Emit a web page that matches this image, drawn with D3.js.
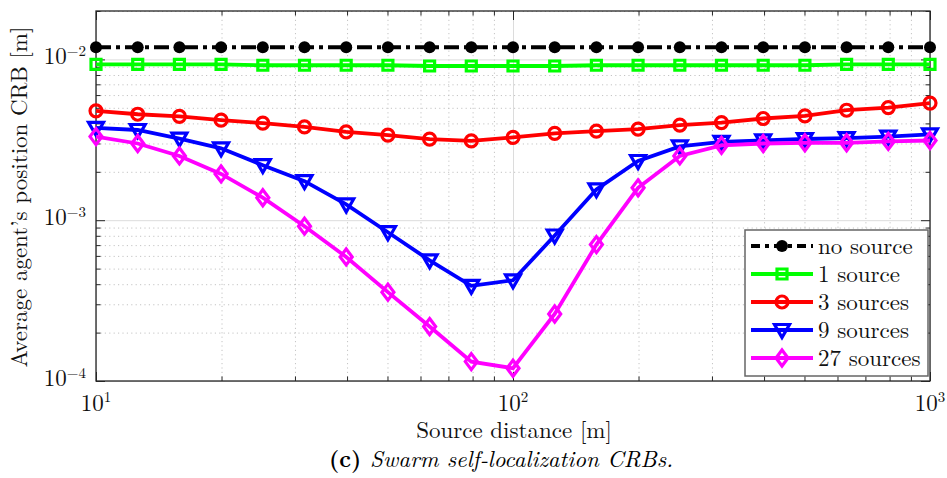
<!DOCTYPE html>
<html>
<head>
<meta charset="utf-8">
<script src="https://cdn.jsdelivr.net/npm/d3@7"></script>
<style>
  body { margin: 0; background: #fff; }
</style>
</head>
<body>
<svg id="chart" width="947" height="478"></svg>
<script>
// ---- data ----
const distances = [10, 12.59, 15.85, 19.95, 25.12, 31.62, 39.81, 50.12, 63.1, 79.43,
  100, 125.9, 158.5, 199.5, 251.2, 316.2, 398.1, 501.2, 631, 794.3, 1000];

const noSource = [0.0119, 0.0119, 0.0119, 0.0119, 0.0119, 0.0119, 0.0119, 0.0119, 0.0119, 0.0119,
  0.0119, 0.0119, 0.0119, 0.0119, 0.0119, 0.0119, 0.0119, 0.0119, 0.0119, 0.0119, 0.0119];
const oneSource = [0.0093, 0.0093, 0.0093, 0.0093, 0.0092, 0.0092, 0.0092, 0.0092, 0.0091, 0.0091,
  0.0091, 0.0091, 0.0092, 0.0092, 0.0092, 0.0092, 0.0092, 0.0092, 0.0093, 0.0093, 0.0093];
const threeSources = [0.00479, 0.00456, 0.00442, 0.00419, 0.00401, 0.0038, 0.00354, 0.00338, 0.00319, 0.00311,
  0.00327, 0.00347, 0.00358, 0.00368, 0.0039, 0.00405, 0.00429, 0.00445, 0.00483, 0.00502, 0.00535];
const nineSources = [0.00375, 0.00364, 0.00322, 0.0028, 0.0022, 0.00175, 0.001253, 0.000842, 0.000563, 0.000391,
  0.000423, 0.000803, 0.001554, 0.002335, 0.00288, 0.00307, 0.00314, 0.0032, 0.00324, 0.00331, 0.00342];
const twentySevenSources = [0.00331, 0.003, 0.00251, 0.00194, 0.00138, 0.000918, 0.000591, 0.000357, 0.000218, 0.000132,
  0.00012, 0.000261, 0.000705, 0.00159, 0.00251, 0.00292, 0.003, 0.00303, 0.00303, 0.00309, 0.00313];

const seriesNames = ["no source", "1 source", "3 sources", "9 sources", "27 sources"];

const xMajor = [10, 100, 1000];
const xMinor = [20, 30, 40, 50, 60, 70, 80, 90, 200, 300, 400, 500, 600, 700, 800, 900];
const yMajor = [1e-4, 1e-3, 1e-2];
const yMinor = [2e-4, 3e-4, 4e-4, 5e-4, 6e-4, 7e-4, 8e-4, 9e-4,
  2e-3, 3e-3, 4e-3, 5e-3, 6e-3, 7e-3, 8e-3, 9e-3, 2e-2];
const xExp = { 10: "1", 100: "2", 1000: "3" };
const yExp = { 1e-4: "\u22124", 1e-3: "\u22123", 1e-2: "\u22122" };

// ---- chart ----
const FONT = '"Latin Modern Roman"';
const FS = "23px";
const svg = d3.select("#chart");
const margin = { top: 11, right: 17, bottom: 97, left: 96 };
const width = +svg.attr("width");
const height = +svg.attr("height");
const innerWidth = width - margin.left - margin.right;
const innerHeight = height - margin.top - margin.bottom;
const axisColor = "#262626";

const g = svg.append("g").attr("transform", `translate(${margin.left},${margin.top})`);

const x = d3.scaleLog().domain([10, 1000]).range([0, innerWidth]);
const y = d3.scaleLog().domain([1e-4, 2e-2]).range([innerHeight, 0]);

// grid: minor dotted, major solid light
g.append("g")
  .call(d3.axisBottom(x).tickValues(xMinor).tickSize(innerHeight).tickFormat(""))
  .call((s) => s.select(".domain").remove())
  .call((s) => s.selectAll("line").attr("stroke", "#c4c4c4").attr("stroke-dasharray", "1.2,3.2"));
g.append("g")
  .call(d3.axisRight(y).tickValues(yMinor).tickSize(innerWidth).tickFormat(""))
  .call((s) => s.select(".domain").remove())
  .call((s) => s.selectAll("line").attr("stroke", "#c4c4c4").attr("stroke-dasharray", "1.2,3.2"));
g.append("g")
  .call(d3.axisBottom(x).tickValues(xMajor).tickSize(innerHeight).tickFormat(""))
  .call((s) => s.select(".domain").remove())
  .call((s) => s.selectAll("line").attr("stroke", "#dcdcdc"));
g.append("g")
  .call(d3.axisRight(y).tickValues(yMajor).tickSize(innerWidth).tickFormat(""))
  .call((s) => s.select(".domain").remove())
  .call((s) => s.selectAll("line").attr("stroke", "#dcdcdc"));

// tick marks on all four sides, pointing inward
function tickMarks(axis, transform, values, len) {
  g.append("g")
    .attr("transform", transform)
    .call(axis.tickValues(values).tickSize(-len).tickFormat(""))
    .call((s) => s.select(".domain").remove())
    .call((s) => s.selectAll("line").attr("stroke", axisColor).attr("stroke-width", 1));
}
tickMarks(d3.axisBottom(x), `translate(0,${innerHeight})`, xMajor, 9);
tickMarks(d3.axisBottom(x), `translate(0,${innerHeight})`, xMinor, 4.5);
tickMarks(d3.axisTop(x), "translate(0,0)", xMajor, 9);
tickMarks(d3.axisTop(x), "translate(0,0)", xMinor, 4.5);
tickMarks(d3.axisLeft(y), "translate(0,0)", yMajor, 9);
tickMarks(d3.axisLeft(y), "translate(0,0)", yMinor, 4.5);
tickMarks(d3.axisRight(y), `translate(${innerWidth},0)`, yMajor, 9);
tickMarks(d3.axisRight(y), `translate(${innerWidth},0)`, yMinor, 4.5);

// box
g.append("rect")
  .attr("width", innerWidth)
  .attr("height", innerHeight)
  .attr("fill", "none")
  .attr("stroke", axisColor)
  .attr("stroke-width", 1.3);

// tick labels (10^n)
xMajor.forEach((v) => {
  const t = g.append("text")
    .attr("x", x(v))
    .attr("y", innerHeight + 29.5)
    .attr("text-anchor", "middle")
    .style("font-family", FONT)
    .style("font-size", FS)
    .attr("fill", "#111");
  t.append("tspan").text("10");
  t.append("tspan").attr("dy", -8.5).style("font-size", "15px").text(xExp[v]);
});
yMajor.forEach((v) => {
  const t = g.append("text")
    .attr("x", -10)
    .attr("y", y(v) + 5)
    .attr("text-anchor", "end")
    .style("font-family", FONT)
    .style("font-size", FS)
    .attr("fill", "#111");
  t.append("tspan").text("10");
  t.append("tspan").attr("dy", -8.5).style("font-size", "15px").text(yExp[v]);
});

// axis titles
svg.append("text")
  .attr("transform", `translate(27,${margin.top + innerHeight / 2 + 1}) rotate(-90)`)
  .attr("text-anchor", "middle")
  .style("font-family", FONT)
  .style("font-size", FS)
  .attr("fill", "#111")
  .text("Average agent\u2019s position CRB [m]");

svg.append("text")
  .attr("x", margin.left + innerWidth / 2 + 1)
  .attr("y", 438)
  .attr("text-anchor", "middle")
  .style("font-family", FONT)
  .style("font-size", FS)
  .attr("fill", "#111")
  .text("Source distance [m]");

const caption = svg.append("text")
  .attr("x", 501)
  .attr("y", 467)
  .attr("text-anchor", "middle")
  .style("font-family", FONT)
  .style("font-size", FS)
  .attr("fill", "#000");
caption.append("tspan").style("font-weight", "bold").text("(c) ");
caption.append("tspan").style("font-style", "italic").text("Swarm self-localization CRBs.");

// ---- series ----
const series = [
  { name: seriesNames[0], values: noSource, color: "#000000", marker: "dot", dash: "15,5,4,5" },
  { name: seriesNames[1], values: oneSource, color: "#00ff00", marker: "square", dash: null },
  { name: seriesNames[2], values: threeSources, color: "#ff0000", marker: "circle", dash: null },
  { name: seriesNames[3], values: nineSources, color: "#0000ff", marker: "triangle", dash: null },
  { name: seriesNames[4], values: twentySevenSources, color: "#ff00ff", marker: "diamond", dash: null },
];

function markerPath(type) {
  switch (type) {
    case "square": return "M-5,-5H5V5H-5Z";
    case "triangle": return "M-7.5,-5.5H7.5L0,7.5Z";
    case "diamond": return "M0,-8L6,0L0,8L-6,0Z";
    default: return "";
  }
}

function drawMarker(sel, s, cx, cy) {
  if (s.marker === "dot") {
    sel.append("circle").attr("cx", cx).attr("cy", cy).attr("r", 6).attr("fill", s.color);
  } else if (s.marker === "circle") {
    sel.append("circle").attr("cx", cx).attr("cy", cy).attr("r", 6)
      .attr("fill", "none").attr("stroke", s.color).attr("stroke-width", 3.2);
  } else {
    sel.append("path").attr("d", markerPath(s.marker))
      .attr("transform", `translate(${cx},${cy})`)
      .attr("fill", "none").attr("stroke", s.color).attr("stroke-width", 3.2)
      .attr("stroke-linejoin", "miter");
  }
}

const line = d3.line()
  .x((d) => x(d[0]))
  .y((d) => y(d[1]));

series.forEach((s) => {
  const pts = distances.map((dd, i) => [dd, s.values[i]]);
  g.append("path")
    .datum(pts)
    .attr("fill", "none")
    .attr("stroke", s.color)
    .attr("stroke-width", 3.8)
    .attr("stroke-dasharray", s.dash)
    .attr("d", line);
  const mg = g.append("g");
  pts.forEach((p) => drawMarker(mg, s, x(p[0]), y(p[1])));
});

// ---- legend ----
const legend = svg.append("g").attr("transform", "translate(745,230)");
legend.append("rect")
  .attr("width", 183)
  .attr("height", 146)
  .attr("fill", "#fff")
  .attr("stroke", "#666")
  .attr("stroke-width", 1.5);

series.forEach((s, i) => {
  const cy = 16 + i * 28;
  const row = legend.append("g");
  row.append("line")
    .attr("x1", 6).attr("x2", 68)
    .attr("y1", cy).attr("y2", cy)
    .attr("stroke", s.color)
    .attr("stroke-width", 3.8)
    .attr("stroke-dasharray", s.dash ? "9,5,4,5" : null);
  drawMarker(row, s, 37, cy);
  row.append("text")
    .attr("x", 73)
    .attr("y", cy + 8)
    .style("font-family", FONT)
    .style("font-size", FS)
    .attr("fill", "#111")
    .text(s.name);
});
</script>
</body>
</html>
